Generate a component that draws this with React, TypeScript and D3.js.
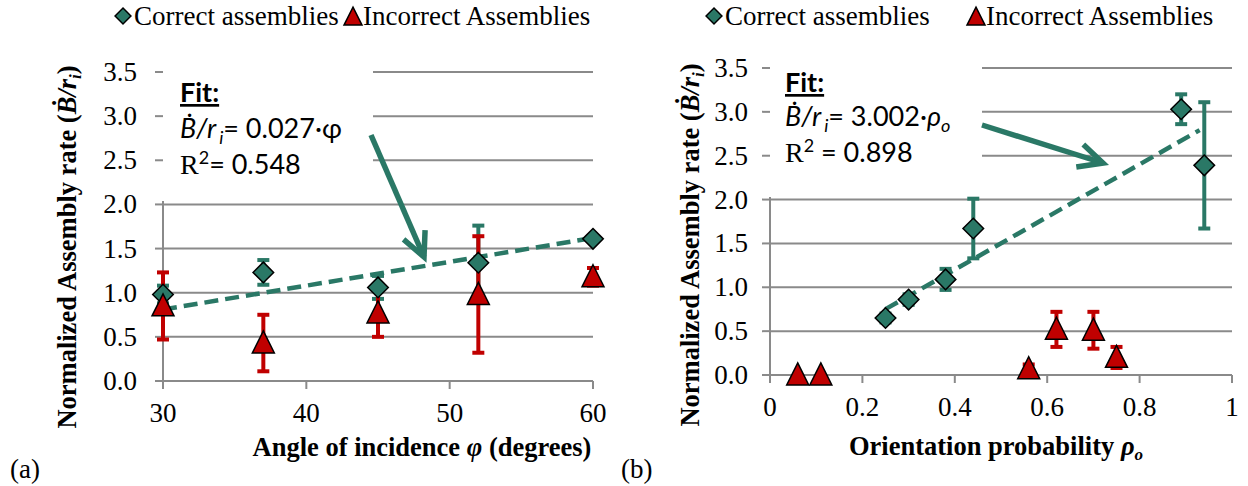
import * as d3 from "d3";

// panel (a): angle of incidence
const anglesA = [30, 37, 45, 52, 60];
const correctA = [0.98, 1.23, 1.06, 1.34, 1.61];
const correctErrA = [0.1, 0.14, 0.13, 0.42, 0];
const incorrectA = [0.85, 0.43, 0.77, 0.98, 1.18];
const incorrectErrA = [0.38, 0.32, 0.27, 0.66, 0.1];
const slopeA = 0.027;

// panel (b): orientation probability
const probCorrectB = [0.25, 0.3, 0.38, 0.44, 0.89, 0.94];
const correctB = [0.65, 0.86, 1.09, 1.67, 3.03, 2.39];
const correctErrB = [0.05, 0.06, 0.12, 0.34, 0.17, 0.72];
const probIncorrectB = [0.06, 0.11, 0.56, 0.62, 0.7, 0.75];
const incorrectB = [0, 0, 0.07, 0.52, 0.51, 0.2];
const incorrectErrB = [0, 0, 0.05, 0.2, 0.21, 0.12];
const slopeB = 3.002;

const yTicks = [0, 0.5, 1, 1.5, 2, 2.5, 3, 3.5];
const xTicksA = [30, 40, 50, 60];
const xTicksB = [0, 0.2, 0.4, 0.6, 0.8, 1];

const TEAL = "#2a7866";
const RED = "#c00000";
const GRID = "#8a8a8a";
const SERIF = "'Liberation Serif', 'Times New Roman', serif";
const SANS = "Lato, Carlito, 'Open Sans', sans-serif";

const diamond = d3.symbol(d3.symbolDiamond2, 270)();
const diamondSmall = d3.symbol(d3.symbolDiamond2, 160)();
const triangle = (s: number) => `M0,${-s * 0.55}L${s * 0.5},${s * 0.45}L${-s * 0.5},${s * 0.45}Z`;

type PanelProps = {
  x: d3.ScaleLinear<number, number>;
  y: d3.ScaleLinear<number, number>;
  xTicks: number[];
  labelGap: number;
  box: { x0: number; x1: number; y0: number; y1: number };
  cx: number[];
  cy: number[];
  ce: number[];
  ix: number[];
  iy: number[];
  ie: number[];
  fit: [number, number];
  slope: number;
};

function ErrBar({ x, y0, y1, color }: { x: number; y0: number; y1: number; color: string }) {
  if (Math.abs(y1 - y0) < 1) return null;
  return (
    <g stroke={color} strokeWidth={4}>
      <line x1={x} x2={x} y1={y0} y2={y1} />
      <line x1={x - 6} x2={x + 6} y1={y0} y2={y0} />
      <line x1={x - 6} x2={x + 6} y1={y1} y2={y1} />
    </g>
  );
}

function Panel(p: PanelProps) {
  const { x, y } = p;
  const [x0, x1] = x.range();
  const y0 = y(0);
  const fitLine = d3.line<number>().x((v) => x(v)).y((v) => y(p.slope * v))(p.fit) || "";
  return (
    <g>
      {yTicks.slice(1).map((t) => (
        <line key={t} x1={x0} x2={x1} y1={y(t)} y2={y(t)} stroke={GRID} strokeWidth={2} />
      ))}
      <line x1={x0} x2={x0} y1={y0} y2={y(3.5)} stroke={GRID} strokeWidth={2} />
      <line x1={x0} x2={x1} y1={y0} y2={y0} stroke={GRID} strokeWidth={2} />
      {p.xTicks.map((t) => (
        <line key={t} x1={x(t)} x2={x(t)} y1={y0} y2={y0 + 8} stroke={GRID} strokeWidth={2} />
      ))}
      {/* white box behind the fit text hides upper gridlines */}
      <rect x={p.box.x0} y={p.box.y0} width={p.box.x1 - p.box.x0} height={p.box.y1 - p.box.y0} fill="#fff" />
      {yTicks.map((t) => (
        <g key={t}>
          <line x1={x0 - 8} x2={x0} y1={y(t)} y2={y(t)} stroke={GRID} strokeWidth={2} />
          <text x={x0 - p.labelGap} y={y(t) + 9} textAnchor="end" fontFamily={SERIF} fontSize={27}>
            {t.toFixed(1)}
          </text>
        </g>
      ))}
      {p.xTicks.map((t) => (
        <text key={t} x={x(t)} y={y0 + 41} textAnchor="middle" fontFamily={SERIF} fontSize={27}>
          {String(t)}
        </text>
      ))}
      {p.cx.map((v, i) => (
        <ErrBar key={"c" + i} x={x(v)} y0={y(p.cy[i] - p.ce[i])} y1={y(p.cy[i] + p.ce[i])} color={TEAL} />
      ))}
      {p.ix.map((v, i) => (
        <ErrBar key={"i" + i} x={x(v)} y0={y(p.iy[i] - p.ie[i])} y1={y(p.iy[i] + p.ie[i])} color={RED} />
      ))}
      <path d={fitLine} fill="none" stroke={TEAL} strokeWidth={4.5} strokeDasharray="14 7" />
      {p.cx.map((v, i) => (
        <path key={"cd" + i} d={diamond} transform={`translate(${x(v)},${y(p.cy[i])})`} fill={TEAL} stroke="#000" strokeWidth={1.5} />
      ))}
      {p.ix.map((v, i) => (
        <path key={"it" + i} d={triangle(22)} transform={`translate(${x(v)},${y(p.iy[i])})`} fill={RED} stroke="#000" strokeWidth={1.5} />
      ))}
    </g>
  );
}

function Legend({ x1, x2 }: { x1: number; x2: number }) {
  return (
    <g fontFamily={SERIF} fontSize={27}>
      <path d={diamondSmall} transform={`translate(${x1},16)`} fill={TEAL} stroke="#000" strokeWidth={1.5} />
      <text x={x1 + 11} y={25}>Correct assemblies</text>
      <path d={triangle(18)} transform={`translate(${x2},17)`} fill={RED} stroke="#000" strokeWidth={1.5} />
      <text x={x2 + 10} y={25}>Incorrect Assemblies</text>
    </g>
  );
}

function YLabel({ x, y }: { x: number; y: number }) {
  return (
    <text transform={`translate(${x},${y}) rotate(-90)`} textAnchor="middle" fontFamily={SERIF} fontSize={26.5} fontWeight="bold">
      Normalized Assembly rate (<tspan fontStyle="italic">Ḃ/r</tspan>
      <tspan fontStyle="italic" fontSize={17} dy={5}>i</tspan>
      <tspan dy={-5}>)</tspan>
    </text>
  );
}

function Arrow({ from, to, color }: { from: [number, number]; to: [number, number]; color: string }) {
  const ang = Math.atan2(to[1] - from[1], to[0] - from[0]);
  const len = 27;
  const a1 = ang + Math.PI - 0.45;
  const a2 = ang + Math.PI + 0.45;
  return (
    <g stroke={color} strokeWidth={5.5} fill="none" strokeLinecap="butt">
      <line x1={from[0]} y1={from[1]} x2={to[0]} y2={to[1]} />
      <polyline
        points={`${to[0] + len * Math.cos(a1)},${to[1] + len * Math.sin(a1)} ${to[0]},${to[1]} ${to[0] + len * Math.cos(a2)},${to[1] + len * Math.sin(a2)}`}
      />
    </g>
  );
}

export default function App() {
  const xA = d3.scaleLinear().domain([30, 60]).range([163, 593]);
  const yA = d3.scaleLinear().domain([0, 3.5]).range([381, 72]);
  const xB = d3.scaleLinear().domain([0, 1]).range([770, 1232]);
  const yB = d3.scaleLinear().domain([0, 3.5]).range([375, 68]);

  return (
    <svg width={1248} height={486} style={{ position: "absolute", left: 0, top: 0, background: "#fff" }}>
      <Legend x1={123} x2={353} />
      <Legend x1={714} x2={976} />

      <Panel
        x={xA}
        y={yA}
        xTicks={xTicksA}
        labelGap={26}
        box={{ x0: 162, x1: 373, y0: 48, y1: 201 }}
        cx={anglesA}
        cy={correctA}
        ce={correctErrA}
        ix={anglesA}
        iy={incorrectA}
        ie={incorrectErrA}
        fit={[30, 60]}
        slope={slopeA}
      />
      <Panel
        x={xB}
        y={yB}
        xTicks={xTicksB}
        labelGap={22}
        box={{ x0: 769, x1: 982, y0: 48, y1: 197 }}
        cx={probCorrectB}
        cy={correctB}
        ce={correctErrB}
        ix={probIncorrectB}
        iy={incorrectB}
        ie={incorrectErrB}
        fit={[0.25, 0.93]}
        slope={slopeB}
      />

      <YLabel x={76} y={247} />
      <YLabel x={699} y={245} />

      {/* fit annotation (a) */}
      <g fontFamily={SANS} fontSize={27}>
        <text x={180} y={102} fontWeight="bold" textDecoration="underline">Fit:</text>
        <text x={180} y={138}>
          <tspan fontStyle="italic">Ḃ/r</tspan>
          <tspan fontStyle="italic" fontSize={18} dx={3} dy={6}>i</tspan>
          <tspan dy={-6}>= 0.027·φ</tspan>
        </text>
        <text x={180} y={174}>
          <tspan fontFamily={SERIF} fontSize={28}>R</tspan>
          <tspan fontSize={18} dy={-10}>2</tspan>
          <tspan dy={10}>= 0.548</tspan>
        </text>
      </g>
      <Arrow from={[371, 135]} to={[424, 257]} color={TEAL} />

      {/* fit annotation (b) */}
      <g fontFamily={SANS} fontSize={27}>
        <text x={785} y={92} fontWeight="bold" textDecoration="underline">Fit:</text>
        <text x={785} y={126}>
          <tspan fontStyle="italic">Ḃ/r</tspan>
          <tspan fontStyle="italic" fontSize={18} dx={3} dy={6}>i</tspan>
          <tspan dy={-6}>= 3.002·</tspan>
          <tspan fontStyle="italic">ρ</tspan>
          <tspan fontStyle="italic" fontSize={18} dy={6}>o</tspan>
        </text>
        <text x={785} y={162}>
          <tspan fontFamily={SERIF} fontSize={28}>R</tspan>
          <tspan fontSize={18} dy={-10}>2</tspan>
          <tspan dy={10}> = 0.898</tspan>
        </text>
      </g>
      <Arrow from={[982, 125]} to={[1103, 163]} color={TEAL} />

      {/* axis titles */}
      <text x={422} y={456} textAnchor="middle" fontFamily={SERIF} fontSize={26.5} fontWeight="bold">
        Angle of incidence <tspan fontStyle="italic">φ</tspan> (degrees)
      </text>
      <text x={996} y={455} textAnchor="middle" fontFamily={SERIF} fontSize={26.5} fontWeight="bold">
        Orientation probability <tspan fontStyle="italic">ρ</tspan>
        <tspan fontStyle="italic" fontSize={17} dy={5}>o</tspan>
      </text>
      <text x={10} y={478} fontFamily={SERIF} fontSize={27}>(a)</text>
      <text x={621} y={478} fontFamily={SERIF} fontSize={27}>(b)</text>
    </svg>
  );
}
